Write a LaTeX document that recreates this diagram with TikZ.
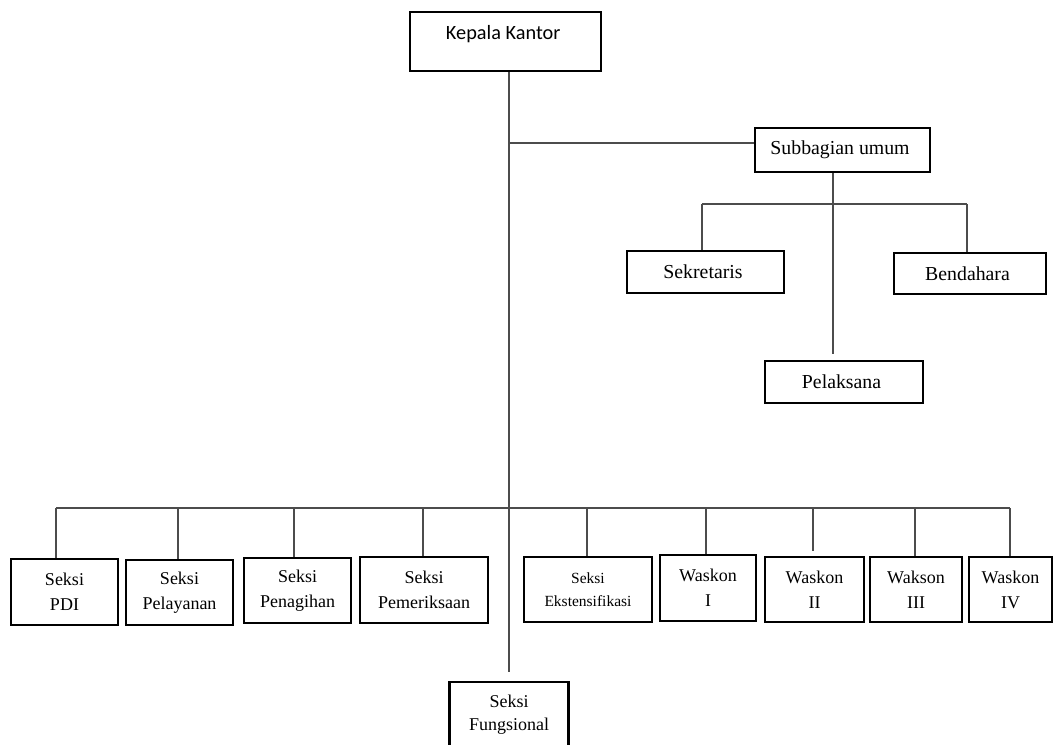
\documentclass[tikz,border=0pt]{standalone}
\usepackage{fontspec}
\setmainfont{Liberation Serif}
\newfontfamily\calibri{Carlito}

\begin{document}
\begin{tikzpicture}[x = 1pt, y = -1pt,
    box/.style = { draw, line width = 2.8pt, align = center, inner sep = 0pt, text = black,
                   font = \fontsize{19.8}{24}\selectfont },
    low/.style = { box, font = \fontsize{18}{25}\selectfont },
    link/.style = { draw = black!70, line width = 1.4pt }]
      \useasboundingbox (0,0) rectangle (1054,744);

      \node [box, minimum width = 191, minimum height = 59, text depth = 18pt,
             font = \calibri\fontsize{20.3}{24}\selectfont] (kepala) at (505.5,41.5) { Kepala Kantor };
      \node [box, minimum width = 175, minimum height = 44] (subbag) at (842.5,150) { Subbagian umum };
      \node [box, minimum width = 157, minimum height = 42] (sekretaris) at (705.5,272) { Sekretaris };
      \node [box, minimum width = 152, minimum height = 41] (bendahara) at (970,273.5) { Bendahara };
      \node [box, minimum width = 158, minimum height = 42] (pelaksana) at (844,382) { Pelaksana };

      \node [low, minimum width = 107, minimum height = 66] (pdi) at (64.5,592) { Seksi \\ PDI };
      \node [low, minimum width = 107, minimum height = 65] (pelayanan) at (179.5,592.5) { Seksi \\ Pelayanan };
      \node [low, minimum width = 107, minimum height = 65] (penagihan) at (297.5,590.5) { Seksi \\ Penagihan };
      \node [low, minimum width = 128, minimum height = 66] (pemeriksaan) at (424,590) { Seksi \\ Pemeriksaan };
      \node [low, minimum width = 128, minimum height = 65, font = \fontsize{15.5}{23}\selectfont]
            (ekstensifikasi) at (588,589.5) { Seksi \\ Ekstensifikasi };
      \node [low, minimum width = 96, minimum height = 66] (waskon1) at (708,588) { Waskon \\ I };
      \node [low, minimum width = 99, minimum height = 65] (waskon2) at (814.5,589.5) { Waskon \\ II };
      \node [low, minimum width = 92, minimum height = 65] (waskon3) at (916,589.5) { Wakson \\ III };
      \node [low, minimum width = 83, minimum height = 65] (waskon4) at (1010.5,589.5) { Waskon \\ IV };
      \node [low, minimum width = 119, minimum height = 66, font = \fontsize{18}{23}\selectfont]
            (fungsional) at (509,715) { Seksi \\ Fungsional };

      \coordinate (trunk) at (509,143);
      \coordinate (subjoint) at (833,204);
      \coordinate (sektop) at (702,204);
      \coordinate (bentop) at (967,204);

      \draw [link] (kepala.south -| trunk) -- ([yshift = 9pt] fungsional.north);
      \draw [link] (trunk) -- (trunk -| subbag.west);
      \draw [link] (subbag.south -| subjoint) -- ([yshift = 6pt] pelaksana.north -| subjoint);
      \draw [link] (sektop) -- (bentop);
      \draw [link] (sektop) -- (sektop |- sekretaris.north);
      \draw [link] (bentop) -- (bentop |- bendahara.north);

      \foreach \n/\x/\gap in {pdi/56/0, pelayanan/178/0, penagihan/294/0, pemeriksaan/423/0,
                              ekstensifikasi/587/0, waskon1/706/0, waskon2/813/5, waskon3/915/0, waskon4/1010/0} {
        \coordinate (bus\n) at (\x,508);
        \draw [link, shorten >= \gap pt] (bus\n) -- (bus\n |- \n.north);
      }
      \draw [link] (buspdi) -- (buswaskon4);
\end{tikzpicture}
\end{document}
